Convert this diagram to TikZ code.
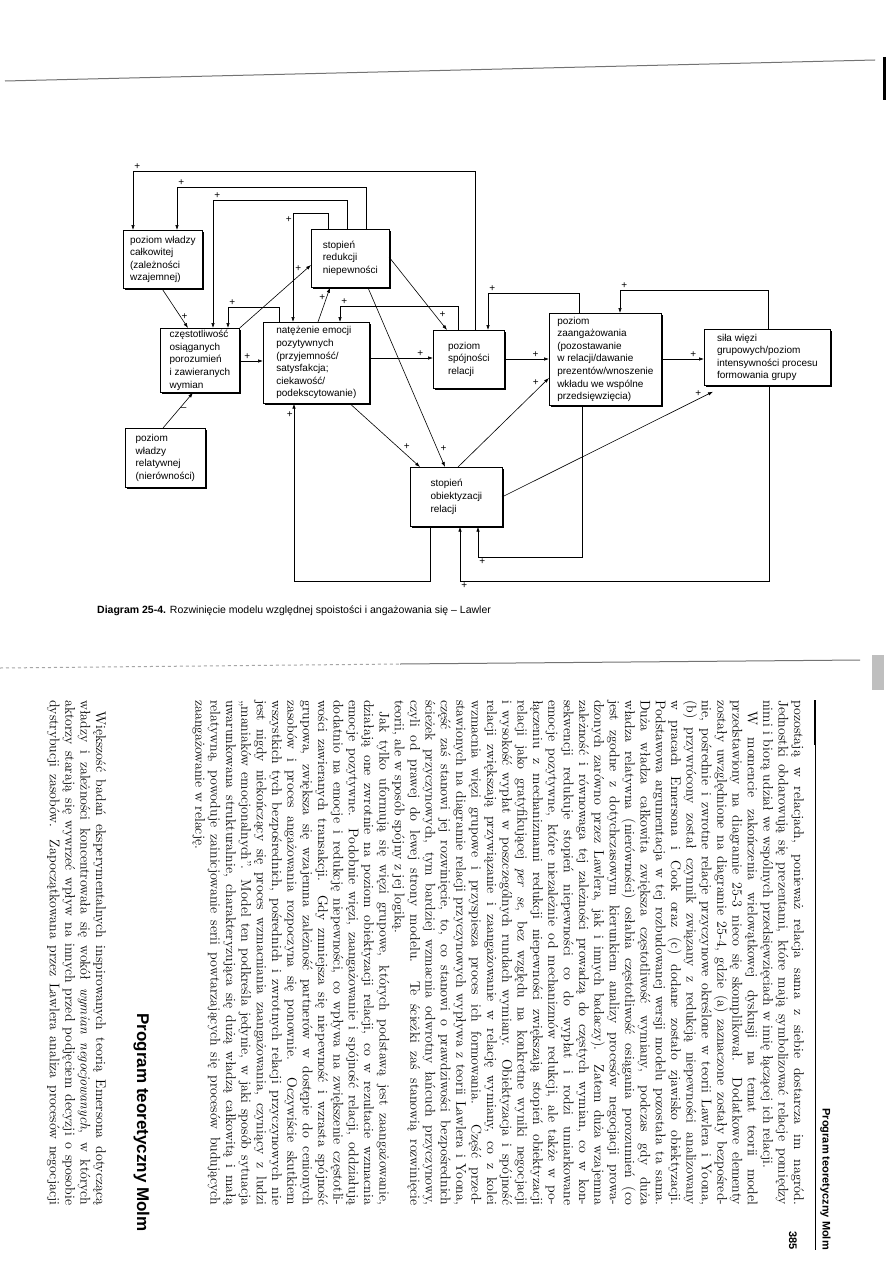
\documentclass[tikz,border=0pt]{standalone}
\usepackage{fontspec}
\setsansfont{Liberation Sans}
\usepackage{tikz}
\usetikzlibrary{arrows.meta, positioning, calc, shadows}
\tikzset{
    box/.style={rectangle, draw, fill=white, line width=0.7pt, align=left, anchor=north west, inner sep=2pt, font=\sffamily\fontsize{10}{12.6}\selectfont, general shadow={fill=black, shadow xshift=1.2pt, shadow yshift=-1.2pt}},
    arrow/.style={-{Latex[length=5pt, width=3.5pt]}, line width=0.6pt},
    sign/.style={font=\sffamily\fontsize{10}{10}\selectfont, inner sep=1pt},
    scan/.style={line width=1pt, black!55}
}
\newlength{\colw}\setlength{\colw}{505pt}
\newcommand{\jline}[1]{\hbox to\colw{#1}}
\newcommand{\pline}[1]{\hbox to\colw{\hskip 11pt #1}}
\newcommand{\eline}[1]{\hbox to\colw{#1\hfil}}

\begin{document}
\begin{tikzpicture}[x=1pt, y=-1pt]
    \fill[white] (0,0) rectangle (893,1263);
    \useasboundingbox (0,0) rectangle (893,1263);

    % edges of the scan
    \draw[scan] (5,81) -- (875,60);
    \draw[line width=3pt] (884,57) -- (884,100);
    \draw[scan, black!35, dashed] (0,668) -- (400,664);
    \draw[scan] (400,664) -- (860,660);
    \fill[black!25] (872,655) rectangle (884,690);

    % boxes
    \node[box, minimum width=79pt, minimum height=58pt] (wcal) at (123,230) {poziom władzy\\całkowitej\\(zależności\\wzajemnej)};
    \node[box, minimum width=78pt, minimum height=58pt] (stred) at (311,229) {stopień\\redukcji\\niepewności};
    \node[box, minimum width=79pt, minimum height=64pt] (czest) at (160,328) {częstotliwość\\osiąganych\\porozumień\\i zawieranych\\wymian};
    \node[box, minimum width=106pt, minimum height=81pt] (emoc) at (263,322) {natężenie emocji\\pozytywnych\\(przyjemność/\\satysfakcja;\\ciekawość/\\podekscytowanie)};
    \node[box, minimum width=80pt, minimum height=59pt] (wrel) at (125,428) {poziom\\władzy\\relatywnej\\(nierówności)};
    \node[box, minimum width=71pt, minimum height=58pt] (spoj) at (433,330) {poziom\\spójności\\relacji};
    \node[box, minimum width=112pt, minimum height=92pt] (zaang) at (549,313) {poziom\\zaangażowania\\(pozostawanie\\w relacji/dawanie\\prezentów/wnoszenie\\wkładu we wspólne\\przedsięwzięcia)};
    \node[box, minimum width=126pt, minimum height=56pt] (sila) at (704,329) {siła więzi\\grupowych/poziom\\intensywności procesu\\formowania grupy};
    \node[box, minimum width=92pt, minimum height=59pt] (obiek) at (410,467) {stopień\\obiektyzacji\\relacji};

    % loops over the top
    \draw[arrow] ($(spoj.north west)+(42,0)$) -- ++(0,-159) -| node[sign, pos=0.5, above right]{+} ($(wcal.north west)+(10,0)$);
    \draw[arrow] ($(stred.north west)+(55,0)$) -- ++(0,-42) -| node[sign, pos=0.5, above right]{+} ($(wcal.north west)+(54,0)$);
    \draw[arrow] ($(stred.north west)+(36,0)$) -- ++(0,-29) -| node[sign, pos=0.5, above right]{+} ($(czest.north west)+(53,0)$);
    \draw[arrow] ($(stred.north west)+(17,0)$) -- ++(0,-16) -| node[sign, pos=0.53, left]{+} ($(emoc.north west)+(30,0)$);
    \draw[arrow] ($(emoc.north west)+(16,0)$) -- ++(0,-15) -| node[sign, pos=0.5, above right]{+} ($(czest.north west)+(68,0)$);
    \draw[arrow] ($(spoj.north west)+(25,0)$) -- ++(0,-24) -| node[sign, pos=0.5, above right]{+} ($(emoc.north west)+(77,0)$);
    \draw[arrow] ($(zaang.north west)+(30,0)$) -- ++(0,-20) -| node[sign, pos=0.5, above right]{+} ($(spoj.north west)+(55,0)$);
    \draw[arrow] ($(sila.north west)+(64,0)$) -- ++(0,-39) -| node[sign, pos=0.5, above right]{+} ($(zaang.north west)+(71,0)$);

    % direct links
    \draw[arrow] ($(wcal.south west)+(39,0)$) -- node[sign, pos=0.7, right]{+} ($(czest.north west)+(28,0)$);
    \draw[arrow] (czest.north east) -- node[sign, pos=0.88, above left]{+} ($(stred.north west)+(0,36)$);
    \draw[arrow] ($(czest.north west)+(79,33)$) -- node[sign, pos=0.35, above]{+} ($(emoc.north west)+(0,39)$);
    \draw[arrow] ($(wrel.north west)+(38,0)$) -- node[sign, pos=0.55, right]{–} ($(czest.south west)+(33,0)$);
    \draw[arrow] ($(emoc.north west)+(55,0)$) -- node[sign, pos=0.7, left]{+} ($(stred.south west)+(19,0)$);
    \draw[arrow] ($(stred.south west)+(57,0)$) -- node[sign, pos=0.9, right=2pt]{+} ($(obiek.north west)+(35,0)$);
    \draw[arrow] ($(emoc.south west)+(87,0)$) -- node[sign, pos=0.75, above right=0pt]{+} ($(obiek.north west)+(10,0)$);
    \draw[arrow] ($(emoc.north west)+(106,36)$) -- node[sign, pos=0.8, above]{+} ($(spoj.north west)+(0,28)$);
    \draw[arrow] ($(stred.north west)+(78,28)$) -- node[sign, pos=0.85, above right=0pt]{+} ($(spoj.north west)+(14,0)$);
    \draw[arrow] ($(obiek.north west)+(48,0)$) -- node[sign, pos=0.9, above left=0pt]{+} ($(zaang.north west)+(0,65)$);
    \draw[arrow] ($(spoj.north west)+(71,29)$) -- node[sign, pos=0.7, above]{+} ($(zaang.north west)+(0,46)$);
    \draw[arrow] ($(zaang.north west)+(112,46)$) -- node[sign, pos=0.75, above]{+} ($(sila.north west)+(0,30)$);
    \draw[arrow] ($(obiek.north west)+(92,30)$) -- node[sign, pos=0.93, above=1pt]{+} ($(sila.south west)+(9,6)$);

    % loops under the bottom
    \draw[arrow] ($(zaang.south west)+(33,0)$) -- ++(0,152) -| node[sign, pos=0.5, below right]{+} ($(obiek.south west)+(68,0)$);
    \draw[arrow] ($(sila.south west)+(65,0)$) -- ++(0,196) -| node[sign, pos=0.5, below right]{+} ($(obiek.south west)+(50,0)$);
    \draw[arrow] ($(obiek.south west)+(20,0)$) -- ++(0,55) -| node[sign, pos=0.97, left]{+} ($(emoc.south west)+(31,0)$);

    \node[anchor=west, inner sep=0pt, font=\sffamily\fontsize{10.5}{12}\selectfont] (capt) at (97,611) {\textbf{Diagram 25-4.} Rozwinięcie modelu względnej spoistości i angażowania się – Lawler};

    % page of text, turned
    \draw[line width=0.8pt] (815,700) -- (815,1250);
    \draw[line width=2pt] (815,700) -- (815,745);
    \node[rotate=-90, anchor=south east, inner sep=0pt, font=\sffamily\bfseries\fontsize{11}{13}\selectfont] (head) at (820,1250) {Program teoretyczny Molm};
    \node[rotate=-90, anchor=base east, inner sep=0pt, font=\sffamily\bfseries\fontsize{11}{13}\selectfont] (pnum) at (789,1250) {385};
    \node[rotate=-90, anchor=north west, inner sep=0pt] (body) at (804,700) {\parbox{\colw}{\fontsize{14}{15.35}\selectfont
        \jline{pozostają w relacjach, ponieważ relacja sama z siebie dostarcza im nagród.}
        \jline{Jednostki obdarowują się prezentami, które mają symbolizować relacje pomiędzy}
        \eline{nimi i biorą udział we wspólnych przedsięwzięciach w imię łączącej ich relacji.}
        \pline{W momencie zakończenia wielowątkowej dyskusji na temat teorii model}
        \jline{przedstawiony na diagramie 25-3 nieco się skomplikował. Dodatkowe elementy}
        \jline{zostały uwzględnione na diagramie 25-4, gdzie (a) zaznaczone zostały bezpośred-}
        \jline{nie, pośrednie i zwrotne relacje przyczynowe określone w teorii Lawlera i Yoona,}
        \jline{(b) przywrócony został czynnik związany z redukcją niepewności analizowany}
        \jline{w pracach Emersona i Cook oraz (c) dodane zostało zjawisko obiektyzacji.}
        \jline{Podstawowa argumentacja w tej rozbudowanej wersji modelu pozostała ta sama.}
        \jline{Duża władza całkowita zwiększa częstotliwość wymiany, podczas gdy duża}
        \jline{władza relatywna (nierówności) osłabia częstotliwość osiągania porozumień (co}
        \jline{jest zgodne z dotychczasowym kierunkiem analizy procesów negocjacji prowa-}
        \jline{dzonych zarówno przez Lawlera, jak i innych badaczy). Zatem duża wzajemna}
        \jline{zależność i równowaga tej zależności prowadzą do częstych wymian, co w kon-}
        \jline{sekwencji redukuje stopień niepewności co do wypłat i rodzi umiarkowane}
        \jline{emocje pozytywne, które niezależnie od mechanizmów redukcji, ale także w po-}
        \jline{łączeniu z mechanizmami redukcji niepewności zwiększają stopień obiektyzacji}
        \jline{relacji jako gratyfikującej \textit{per se}, bez względu na konkretne wyniki negocjacji}
        \jline{i wysokość wypłat w poszczególnych rundach wymiany. Obiektyzacja i spójność}
        \jline{relacji zwiększają przywiązanie i zaangażowanie w relację wymiany, co z kolei}
        \jline{wzmacnia więzi grupowe i przyspiesza proces ich formowania. Część przed-}
        \jline{stawionych na diagramie relacji przyczynowych wypływa z teorii Lawlera i Yoona,}
        \jline{część zaś stanowi jej rozwinięcie, to, co stanowi o prawdziwości bezpośrednich}
        \jline{ścieżek przyczynowych, tym bardziej wzmacnia odwrotny łańcuch przyczynowy,}
        \jline{czyli od prawej do lewej strony modelu. Te ścieżki zaś stanowią rozwinięcie}
        \eline{teorii, ale w sposób spójny z jej logiką.}
        \pline{Jak tylko uformują się więzi grupowe, których podstawą jest zaangażowanie,}
        \jline{działają one zwrotnie na poziom obiektyzacji relacji, co w rezultacie wzmacnia}
        \jline{emocje pozytywne. Podobnie więzi, zaangażowanie i spójność relacji, oddziałują}
        \jline{dodatnio na emocje i redukcję niepewności, co wpływa na zwiększenie częstotli-}
        \jline{wości zawieranych transakcji. Gdy zmniejsza się niepewność i wzrasta spójność}
        \jline{grupowa, zwiększa się wzajemna zależność partnerów w dostępie do cenionych}
        \jline{zasobów i proces angażowania rozpoczyna się ponownie. Oczywiście skutkiem}
        \jline{wszystkich tych bezpośrednich, pośrednich i zwrotnych relacji przyczynowych nie}
        \jline{jest nigdy niekończący się proces wzmacniania zaangażowania, czyniący z ludzi}
        \jline{„maniaków emocjonalnych”. Model ten podkreśla jedynie, w jaki sposób sytuacja}
        \jline{uwarunkowana strukturalnie, charakteryzująca się dużą władzą całkowitą i małą}
        \jline{relatywną, powoduje zainicjowanie serii powtarzających się procesów budujących}
        \eline{zaangażowanie w relację.}}};
    \node[rotate=-90, anchor=base east, inner sep=0pt, font=\sffamily\bfseries\fontsize{17}{20}\selectfont] (sect) at (137,1232) {Program teoretyczny Molm};
    \node[rotate=-90, anchor=north west, inner sep=0pt] (body2) at (106,700) {\parbox{\colw}{\fontsize{14}{15.35}\selectfont
        \pline{Większość badań eksperymentalnych inspirowanych teorią Emersona dotyczącą}
        \jline{władzy i zależności koncentrowała się wokół \textit{wymian negocjowanych}, w których}
        \jline{aktorzy starają się wywrzeć wpływ na innych przed podjęciem decyzji o sposobie}
        \jline{dystrybucji zasobów. Zapoczątkowana przez Lawlera analiza procesów negocjacji}}};
\end{tikzpicture}
\end{document}
